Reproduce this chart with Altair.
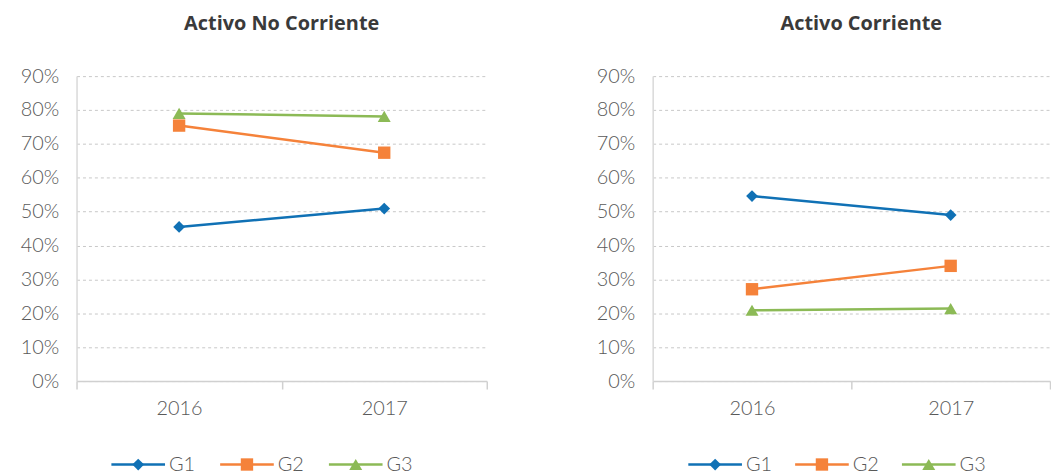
import altair as alt
import pandas as pd

years = ["2016", "2017"]
series = ["G1", "G2", "G3"]
colors = ["#1071b5", "#f5823a", "#8cba56"]
shapes = ["diamond", "square", "triangle-up"]

no_corriente_g1 = [0.455, 0.509]
no_corriente_g2 = [0.754, 0.674]
no_corriente_g3 = [0.790, 0.781]

corriente_g1 = [0.546, 0.490]
corriente_g2 = [0.271, 0.340]
corriente_g3 = [0.209, 0.214]

y_ticks = [0.0, 0.1, 0.2, 0.3, 0.4, 0.5, 0.6, 0.7, 0.8, 0.9]

FONT = "Lato"
TITLE_FONT = "Open Sans"
GRAY = "#595959"


def long_table(g1, g2, g3):
    rows = []
    for name, vals in zip(series, [g1, g2, g3]):
        for yr, v in zip(years, vals):
            rows.append({"year": yr, "series": name, "value": v})
    return pd.DataFrame(rows)


color_scale = alt.Scale(domain=series, range=colors)
shape_scale = alt.Scale(domain=series, range=shapes)
size_scale = alt.Scale(domain=series, range=[140, 170, 170])


def panel(df, title, width, title_dx=0):
    base = alt.Chart(df).encode(
        x=alt.X(
            "year:O",
            title=None,
            scale=alt.Scale(domain=years, paddingInner=0, paddingOuter=0),
            axis=alt.Axis(
                labelAngle=0,
                tickBand="extent",
                tickSize=8,
                tickColor="#d0d0d0",
                tickWidth=1.5,
                domainColor="#d0d0d0",
                domainWidth=1.5,
                labelPadding=10,
                grid=False,
            ),
        ),
        y=alt.Y(
            "value:Q",
            title=None,
            scale=alt.Scale(domain=[0, 0.9], nice=False),
            axis=alt.Axis(
                values=y_ticks,
                format=".0%",
                ticks=False,
                domainColor="#d9d9d9",
                domainWidth=1.5,
                grid=True,
                gridDash=[3, 3],
                gridColor="#c8c8c8",
                gridWidth=1,
                labelPadding=18,
                minExtent=69,
            ),
        ),
        color=alt.Color("series:N", scale=color_scale, legend=None),
    )
    lines = base.mark_line(strokeWidth=2.5)
    points = base.mark_point(filled=True, opacity=1).encode(
        shape=alt.Shape("series:N", scale=shape_scale, legend=None),
        size=alt.Size("series:N", scale=size_scale, legend=None),
    )
    return alt.layer(lines, points).properties(
        width=width,
        height=307,
        title=alt.TitleParams(
            title,
            fontSize=20,
            font=TITLE_FONT,
            fontWeight="bold",
            color="#3a3a3a",
            anchor="middle",
            offset=32,
            dx=title_dx,
        ),
    )


def legend_chart(width, pad, align):
    ldf = pd.DataFrame({"series": series})
    lx = alt.X(
        "series:N",
        axis=None,
        scale=alt.Scale(type="point", domain=series, padding=pad, align=align),
    )
    lbase = alt.Chart(ldf).encode(
        x=lx,
        color=alt.Color("series:N", scale=color_scale, legend=None),
    )
    rule = lbase.mark_rule(strokeWidth=2.5, xOffset=-27, x2Offset=27).encode(
        x2=alt.X2("series:N"), y=alt.value(10)
    )
    pts = lbase.mark_point(filled=True, opacity=1).encode(
        y=alt.value(10),
        shape=alt.Shape("series:N", scale=shape_scale, legend=None),
        size=alt.Size("series:N", scale=size_scale, legend=None),
    )
    txt = lbase.mark_text(
        align="left", baseline="middle", dx=31, fontSize=20, font=FONT,
        fontWeight=300, color=GRAY,
    ).encode(y=alt.value(11), text="series:N", color=alt.value(GRAY))
    return alt.layer(rule, pts, txt).properties(width=width, height=20)


left = alt.vconcat(
    panel(long_table(no_corriente_g1, no_corriente_g2, no_corriente_g3),
          "Activo No Corriente", 413),
    legend_chart(413, 0.886, 0.32),
    spacing=36,
)
right = alt.vconcat(
    panel(long_table(corriente_g1, corriente_g2, corriente_g3),
          "Activo Corriente", 400, title_dx=10),
    legend_chart(400, 0.86, 0.34),
    spacing=36,
)

chart = (
    alt.hconcat(left, right, spacing=97)
    .properties(padding={"left": 0, "top": 5, "right": 0, "bottom": 0})
    .configure_view(stroke=None)
    .configure_axis(
        labelFont=FONT,
        labelFontSize=20,
        labelFontWeight=300,
        labelColor=GRAY,
    )
    .configure_concat(spacing=97)
)

chart.save("out.html", embed_options={"renderer": "svg", "actions": False})
